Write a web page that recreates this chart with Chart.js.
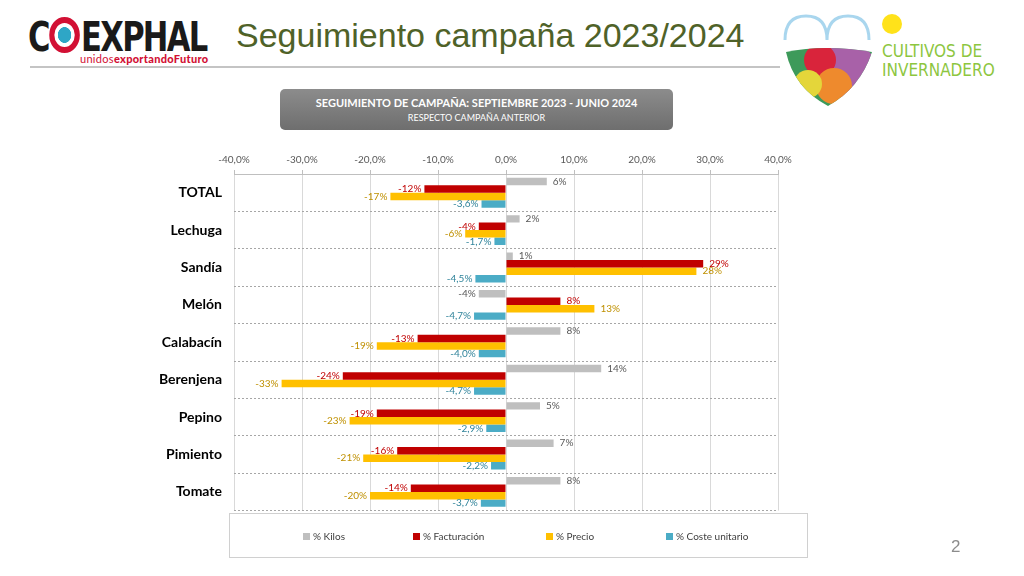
<!DOCTYPE html>
<html>
<head>
<meta charset="utf-8">
<title>Seguimiento campaña 2023/2024</title>
<script src="https://cdn.jsdelivr.net/npm/chart.js"></script>
<style>
  html, body { margin: 0; padding: 0; background: #fff; }
  #page { position: relative; width: 1024px; height: 576px; overflow: hidden; font-family: Lato, sans-serif; }
  .abs { position: absolute; }
  #logo { left: 28px; top: 14px; font-family: 'DejaVu Sans Condensed', sans-serif; font-weight: bold; font-size: 40px; letter-spacing: -2px; color: #1a1a1a; white-space: nowrap; transform: scaleX(0.85); transform-origin: 0 0; }
  #logo .ring { display: inline-block; width: 24px; height: 24px; border-radius: 50%; border: 6px solid #d21034; background: radial-gradient(circle, #2ea6c6 0 45%, #fff 48%); vertical-align: -2px; margin: 0 1px 0 1px; }
  #tagline { left: 80px; top: 52px; font-size: 11px; color: #d21034; letter-spacing: 0.3px; }
  #tagline b { font-weight: 900; }
  #title { left: 236px; top: 16px; font-family: 'Liberation Sans', Arial, sans-serif; font-size: 34px; color: #4f6228; white-space: nowrap; }
  #rule { left: 30px; top: 66px; width: 750px; border-top: 2px solid #c4c4c4; }
  #brand { left: 882px; top: 42px; font-family: 'DejaVu Sans Condensed', sans-serif; font-size: 17px; line-height: 19px; color: #8dc63f; letter-spacing: 0; }
  #box { left: 280px; top: 89px; width: 393px; height: 41px; border-radius: 5px; background: linear-gradient(#8c8c8c, #6e6e6e); color: #fff; text-align: center; }
  #box .l1 { font-weight: bold; font-size: 11px; margin-top: 7px; }
  #box .l2 { font-size: 9px; margin-top: 3px; }
  #chartWrap { left: 140px; top: 140px; width: 670px; height: 391px; }
  #legend { left: 229px; top: 513px; width: 577px; height: 43px; border: 1px solid #d0d0d0; }
  .item { position: absolute; top: 16px; font-size: 10px; color: #404040; white-space: nowrap; }
  .item span { display: inline-block; width: 7px; height: 7px; margin-right: 3px; }
  #pageNum { left: 951px; top: 537px; font-family: 'Liberation Sans', Arial, sans-serif; font-size: 17px; color: #8c8c8c; }
</style>
</head>
<body>
<div id="page">
  <div id="logo" class="abs">C<span class="ring"></span>EXPHAL</div>
  <div id="tagline" class="abs">unidos<b>exportando</b><b>Futuro</b></div>
  <div id="title" class="abs">Seguimiento campaña 2023/2024</div>
  <div id="rule" class="abs"></div>

  <svg class="abs" style="left:780px;top:8px" width="100" height="100" viewBox="0 0 100 100">
    <path d="M5 32 Q5 8 26 8 Q47 8 47 32 Q47 8 68 8 Q89 8 89 32" fill="none" stroke="#a9d6ee" stroke-width="3"/>
    <clipPath id="bowl"><path d="M6 44 Q45 36 92 44 Q80 80 48 98 Q14 80 6 44 Z"/></clipPath>
    <g clip-path="url(#bowl)">
      <rect x="0" y="30" width="100" height="70" fill="#3d9a5a"/>
      <circle cx="68" cy="62" r="28" fill="#b45bb0" opacity="0.9"/>
      <circle cx="40" cy="52" r="16" fill="#d9243b"/>
      <circle cx="54" cy="78" r="18" fill="#ee8a2d"/>
      <circle cx="28" cy="76" r="14" fill="#e4d63a"/>
    </g>
  </svg>
  <svg class="abs" style="left:880px;top:12px" width="24" height="24"><circle cx="12" cy="12" r="10" fill="#ffe21a"/></svg>
  <div id="brand" class="abs">CULTIVOS DE<br>INVERNADERO</div>

  <div id="box" class="abs">
    <div class="l1">SEGUIMIENTO DE CAMPAÑA: SEPTIEMBRE 2023 - JUNIO 2024</div>
    <div class="l2">RESPECTO CAMPAÑA ANTERIOR</div>
  </div>

  <div id="chartWrap" class="abs"><canvas id="myBarChart" width="670" height="391"></canvas></div>
  <div id="legend" class="abs"></div>
  <div id="pageNum" class="abs">2</div>
</div>

<script>
var categories = ['TOTAL', 'Lechuga', 'Sandía', 'Melón', 'Calabacín', 'Berenjena', 'Pepino', 'Pimiento', 'Tomate'];
var seriesNames = ['% Kilos', '% Facturación', '% Precio', '% Coste unitario'];
var kilos = [6, 2, 1, -4, 8, 14, 5, 7, 8];
var facturacion = [-12, -4, 29, 8, -13, -24, -19, -16, -14];
var precio = [-17, -6, 28, 13, -19, -33, -23, -21, -20];
var costeUnitario = [-3.6, -1.7, -4.5, -4.7, -4.0, -4.7, -2.9, -2.2, -3.7];
var xTicks = [-40, -30, -20, -10, 0, 10, 20, 30, 40];

var barColors = ['#bfbfbf', '#c00000', '#ffc000', '#4bacc6'];
var labelColors = ['#595959', '#c00000', '#bf9000', '#31849b'];
var labelDecimals = [0, 0, 0, 1];
var legendX = [73, 183, 316, 436];

Chart.defaults.font.family = 'Lato, sans-serif';

// data labels at the end of each bar
var barLabels = {
    id: 'barLabels',
    afterDatasetsDraw: function (chart) {
        var ctx = chart.ctx;
        chart.data.datasets.forEach(function (ds, i) {
            var meta = chart.getDatasetMeta(i);
            meta.data.forEach(function (bar, j) {
                var v = ds.data[j];
                var txt = v.toFixed(labelDecimals[i]).replace('.', ',') + '%';
                ctx.save();
                ctx.font = '10px Lato, sans-serif';
                ctx.fillStyle = labelColors[i];
                ctx.textBaseline = 'middle';
                if (v >= 0) {
                    ctx.textAlign = 'left';
                    ctx.fillText(txt, bar.x + 6, bar.y);
                } else {
                    ctx.textAlign = 'right';
                    ctx.fillText(txt, bar.x - 3, bar.y);
                }
                ctx.restore();
            });
        });
    }
};

var allSeries = [kilos, facturacion, precio, costeUnitario];
var datasets = allSeries.map(function (values, i) {
    return {
        label: seriesNames[i],
        data: values,
        backgroundColor: barColors[i],
        borderWidth: 0,
        categoryPercentage: 0.8,
        barPercentage: 1.0
    };
});

var ctx = document.getElementById('myBarChart');
var myBarChart = new Chart(ctx, {
    type: 'bar',
    data: {
        labels: categories,
        datasets: datasets
    },
    options: {
        indexAxis: 'y',
        responsive: false,
        animation: false,
        layout: { padding: { top: 0, right: 32, bottom: 5, left: 0 } },
        plugins: {
            legend: { display: false },
            tooltip: { enabled: false }
        },
        scales: {
            x: {
                type: 'linear',
                position: 'top',
                min: xTicks[0],
                max: xTicks[xTicks.length - 1],
                afterBuildTicks: function (scale) {
                    scale.ticks = xTicks.map(function (v) { return { value: v }; });
                },
                afterFit: function (scale) { scale.height = 34; },
                ticks: {
                    color: '#595959',
                    font: { size: 10 },
                    padding: 4,
                    callback: function (v) { return v.toFixed(1).replace('.', ',') + '%'; }
                },
                grid: { color: '#d9d9d9', tickLength: 4, tickColor: '#bfbfbf' },
                border: { color: '#bfbfbf' }
            },
            y: {
                afterFit: function (scale) { scale.width = 94; },
                ticks: {
                    color: '#000',
                    font: { size: 14, weight: 'bold' },
                    padding: 12
                },
                grid: { color: '#a6a6a6', drawTicks: false, offset: true },
                border: { display: false, dash: [2, 2] }
            }
        }
    },
    plugins: [barLabels]
});

// legend in its own framed box
var legend = document.getElementById('legend');
seriesNames.forEach(function (name, i) {
    var item = document.createElement('div');
    item.className = 'item';
    item.style.left = legendX[i] + 'px';
    item.innerHTML = '<span style="background:' + barColors[i] + '"></span>' + name;
    legend.appendChild(item);
});
</script>
</body>
</html>
